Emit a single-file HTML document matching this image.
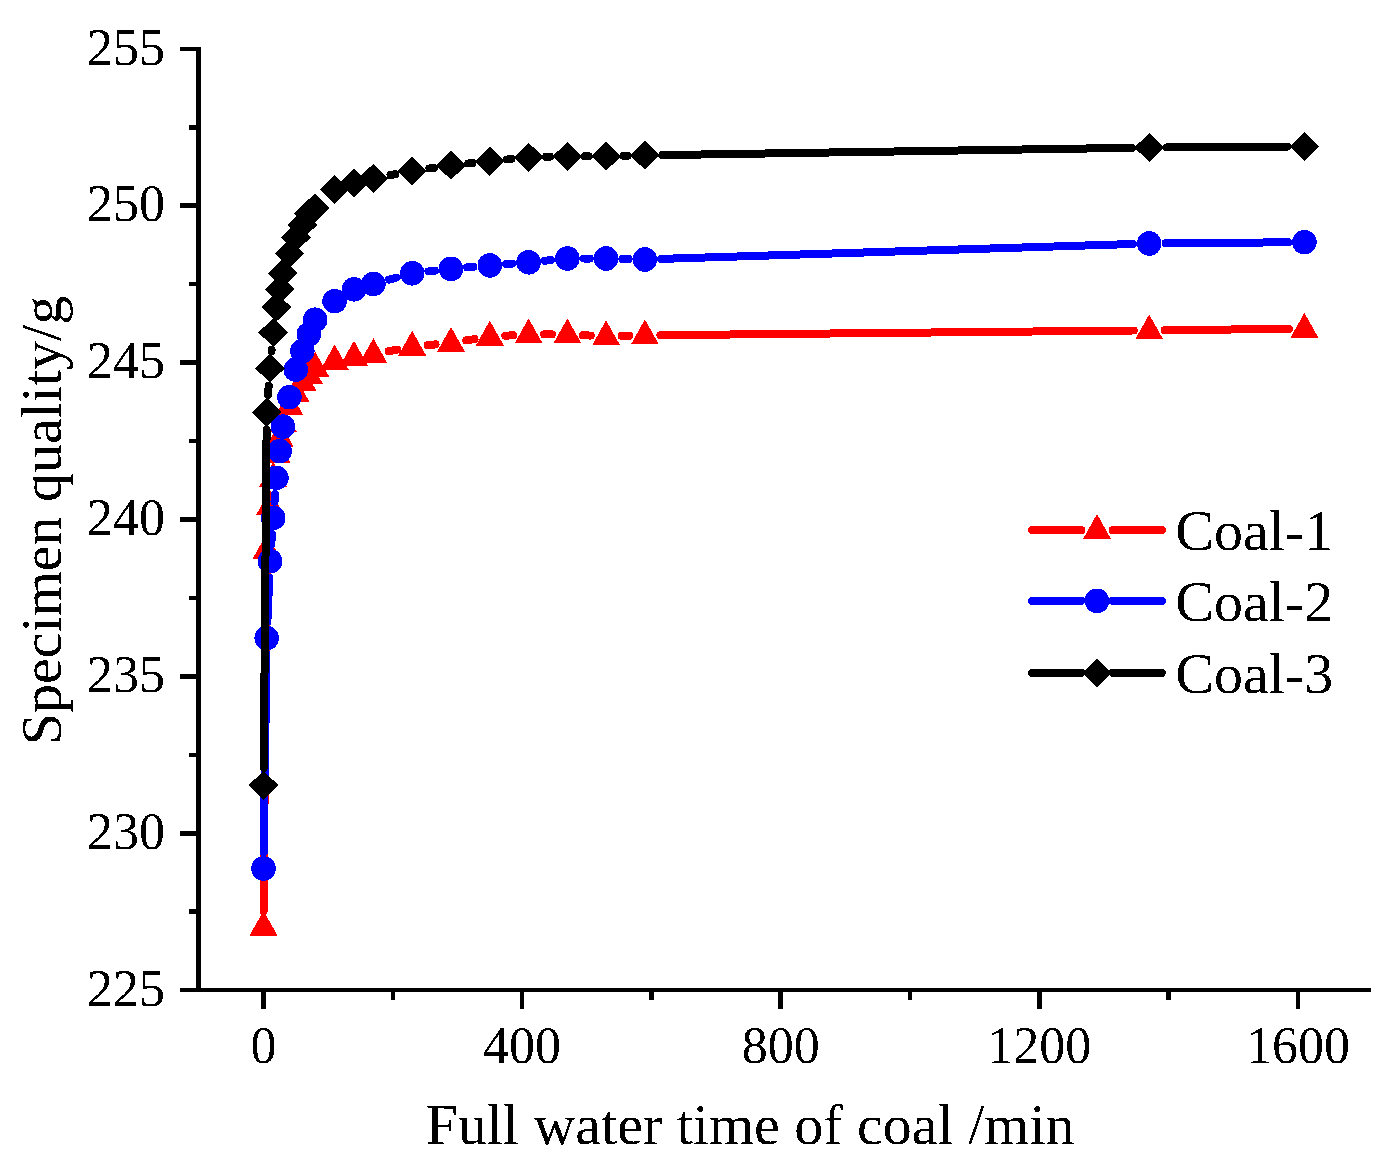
<!DOCTYPE html>
<html><head><meta charset="utf-8"><style>
html,body{margin:0;padding:0;background:#fff;}
svg{display:block;}
</style></head><body>
<svg width="1391" height="1165" viewBox="0 0 1391 1165" shape-rendering="crispEdges">
<defs><filter id="bin" x="0" y="0" width="1391" height="1165" filterUnits="userSpaceOnUse"><feComponentTransfer><feFuncA type="discrete" tableValues="0 1"/></feComponentTransfer></filter></defs>
<g fill="#000">
<rect x="196" y="46.6" width="5" height="945.4"/>
<rect x="180" y="988" width="1191" height="4"/>
<rect x="180" y="987.6" width="18" height="4.8"/>
<rect x="180" y="830.8" width="18" height="4.8"/>
<rect x="180" y="673.9" width="18" height="4.8"/>
<rect x="180" y="517.1" width="18" height="4.8"/>
<rect x="180" y="360.3" width="18" height="4.8"/>
<rect x="180" y="203.4" width="18" height="4.8"/>
<rect x="180" y="46.6" width="18" height="4.8"/>
<rect x="188.8" y="909.4" width="9" height="4.4"/>
<rect x="188.8" y="752.5" width="9" height="4.4"/>
<rect x="188.8" y="595.7" width="9" height="4.4"/>
<rect x="188.8" y="438.9" width="9" height="4.4"/>
<rect x="188.8" y="282.0" width="9" height="4.4"/>
<rect x="188.8" y="125.2" width="9" height="4.4"/>
<rect x="261.2" y="990" width="4.6" height="19"/>
<rect x="519.8" y="990" width="4.6" height="19"/>
<rect x="778.4" y="990" width="4.6" height="19"/>
<rect x="1037.0" y="990" width="4.6" height="19"/>
<rect x="1295.6" y="990" width="4.6" height="19"/>
<rect x="390.5" y="990" width="4.6" height="10"/>
<rect x="649.1" y="990" width="4.6" height="10"/>
<rect x="907.7" y="990" width="4.6" height="10"/>
<rect x="1166.3" y="990" width="4.6" height="10"/>
</g>
<g filter="url(#bin)"><g font-family="Liberation Serif, serif" font-size="52" fill="#000">
<text x="165" y="1005.5" text-anchor="end">225</text>
<text x="165" y="848.7" text-anchor="end">230</text>
<text x="165" y="691.8" text-anchor="end">235</text>
<text x="165" y="535.0" text-anchor="end">240</text>
<text x="165" y="378.2" text-anchor="end">245</text>
<text x="165" y="221.3" text-anchor="end">250</text>
<text x="165" y="64.5" text-anchor="end">255</text>
<text x="263.5" y="1063" text-anchor="middle">0</text>
<text x="522.1" y="1063" text-anchor="middle">400</text>
<text x="780.7" y="1063" text-anchor="middle">800</text>
<text x="1039.3" y="1063" text-anchor="middle">1200</text>
<text x="1297.9" y="1063" text-anchor="middle">1600</text>
</g>
<text x="750" y="1144" font-family="Liberation Serif, serif" font-size="58" text-anchor="middle">Full water time of coal /min</text>
<text transform="translate(60.8,520.5) rotate(-90)" font-family="Liberation Serif, serif" font-size="58" text-anchor="middle">Specimen quality/g</text></g>
<path d="M263.6,911.1L266.6,565.1M267.9,534.1L268.8,521.5M388.6,351.2L397.0,349.6M427.6,345.2L435.6,344.4M466.3,340.4L474.5,339.1M505.3,335.7L513.1,335.3M544.1,334.4L551.9,334.4M582.8,335.2L590.7,335.6M621.6,335.9L629.4,335.7M660.4,335.2L1133.7,330.5M1164.7,330.2L1288.9,328.9" fill="none" stroke="#ff0000" stroke-width="8.0" stroke-linecap="round"/><path d="M249.5,935.6L263.5,910.6L277.5,935.6Z" fill="#ff0000"/><path d="M252.7,558.6L266.7,533.6L280.7,558.6Z" fill="#ff0000"/><path d="M256.0,515.0L270.0,490.0L284.0,515.0Z" fill="#ff0000"/><path d="M259.2,486.8L273.2,461.8L287.2,486.8Z" fill="#ff0000"/><path d="M262.4,462.9L276.4,437.9L290.4,462.9Z" fill="#ff0000"/><path d="M265.7,446.9L279.7,421.9L293.7,446.9Z" fill="#ff0000"/><path d="M268.9,432.2L282.9,407.2L296.9,432.2Z" fill="#ff0000"/><path d="M275.4,415.3L289.4,390.3L303.4,415.3Z" fill="#ff0000"/><path d="M281.8,402.4L295.8,377.4L309.8,402.4Z" fill="#ff0000"/><path d="M288.3,390.5L302.3,365.5L316.3,390.5Z" fill="#ff0000"/><path d="M294.8,383.6L308.8,358.6L322.8,383.6Z" fill="#ff0000"/><path d="M301.2,376.7L315.2,351.7L329.2,376.7Z" fill="#ff0000"/><path d="M320.6,369.5L334.6,344.5L348.6,369.5Z" fill="#ff0000"/><path d="M340.0,365.7L354.0,340.7L368.0,365.7Z" fill="#ff0000"/><path d="M359.4,363.2L373.4,338.2L387.4,363.2Z" fill="#ff0000"/><path d="M398.2,355.7L412.2,330.7L426.2,355.7Z" fill="#ff0000"/><path d="M437.0,351.9L451.0,326.9L465.0,351.9Z" fill="#ff0000"/><path d="M475.8,345.6L489.8,320.6L503.8,345.6Z" fill="#ff0000"/><path d="M514.6,343.4L528.6,318.4L542.6,343.4Z" fill="#ff0000"/><path d="M553.4,343.4L567.4,318.4L581.4,343.4Z" fill="#ff0000"/><path d="M592.1,345.3L606.1,320.3L620.1,345.3Z" fill="#ff0000"/><path d="M630.9,344.4L644.9,319.4L658.9,344.4Z" fill="#ff0000"/><path d="M1135.2,339.4L1149.2,314.4L1163.2,339.4Z" fill="#ff0000"/><path d="M1290.4,337.8L1304.4,312.8L1318.4,337.8Z" fill="#ff0000"/>
<path d="M263.7,852.3L266.5,654.4M267.4,621.8L269.3,577.5M271.2,545.0L272.0,534.2M274.5,501.7L275.1,494.0M389.1,279.6L396.5,277.6M428.4,271.4L434.8,270.7M467.2,267.4L473.5,266.9M506.0,264.1L512.3,263.6M544.8,260.7L551.1,260.1M583.7,258.5L589.8,258.5M622.4,258.9L628.6,259.1M661.2,258.9L1132.9,244.0M1165.5,243.3L1288.1,242.3" fill="none" stroke="#0000ff" stroke-width="8.0" stroke-linecap="round"/><circle cx="263.5" cy="868.6" r="12.3" fill="#0000ff"/><circle cx="266.7" cy="638.1" r="12.3" fill="#0000ff"/><circle cx="270.0" cy="561.2" r="12.3" fill="#0000ff"/><circle cx="273.2" cy="517.9" r="12.3" fill="#0000ff"/><circle cx="276.4" cy="477.8" r="12.3" fill="#0000ff"/><circle cx="279.7" cy="451.1" r="12.3" fill="#0000ff"/><circle cx="282.9" cy="426.6" r="12.3" fill="#0000ff"/><circle cx="289.4" cy="397.2" r="12.3" fill="#0000ff"/><circle cx="295.8" cy="369.6" r="12.3" fill="#0000ff"/><circle cx="302.3" cy="351.1" r="12.3" fill="#0000ff"/><circle cx="308.8" cy="334.4" r="12.3" fill="#0000ff"/><circle cx="315.2" cy="319.7" r="12.3" fill="#0000ff"/><circle cx="334.6" cy="301.2" r="12.3" fill="#0000ff"/><circle cx="354.0" cy="289.3" r="12.3" fill="#0000ff"/><circle cx="373.4" cy="283.9" r="12.3" fill="#0000ff"/><circle cx="412.2" cy="273.3" r="12.3" fill="#0000ff"/><circle cx="451.0" cy="268.9" r="12.3" fill="#0000ff"/><circle cx="489.8" cy="265.4" r="12.3" fill="#0000ff"/><circle cx="528.6" cy="262.3" r="12.3" fill="#0000ff"/><circle cx="567.4" cy="258.5" r="12.3" fill="#0000ff"/><circle cx="606.1" cy="258.5" r="12.3" fill="#0000ff"/><circle cx="644.9" cy="259.5" r="12.3" fill="#0000ff"/><circle cx="1149.2" cy="243.5" r="12.3" fill="#0000ff"/><circle cx="1304.4" cy="242.2" r="12.3" fill="#0000ff"/>
<path d="M263.7,767.8L266.6,429.6M268.0,394.9L268.7,385.7M271.5,351.0L271.6,349.9M390.5,175.0L395.1,174.2M429.4,168.5L433.8,167.9M468.3,163.5L472.5,163.1M507.1,159.5L511.3,159.0M546.0,156.8L550.0,156.7M584.8,156.3L588.7,156.3M623.5,155.8L627.5,155.7M662.3,155.1L1131.8,147.8M1166.6,147.4L1287.0,146.6" fill="none" stroke="#000000" stroke-width="8.0" stroke-linecap="round"/><path d="M248.7,785.2L263.5,770.7L278.3,785.2L263.5,799.7Z" fill="#000000"/><path d="M251.9,412.2L266.7,397.7L281.5,412.2L266.7,426.7Z" fill="#000000"/><path d="M255.2,368.3L270.0,353.8L284.8,368.3L270.0,382.8Z" fill="#000000"/><path d="M258.4,332.5L273.2,318.0L288.0,332.5L273.2,347.0Z" fill="#000000"/><path d="M261.6,307.1L276.4,292.6L291.2,307.1L276.4,321.6Z" fill="#000000"/><path d="M264.9,289.3L279.7,274.8L294.5,289.3L279.7,303.8Z" fill="#000000"/><path d="M268.1,273.3L282.9,258.8L297.7,273.3L282.9,287.8Z" fill="#000000"/><path d="M274.6,253.5L289.4,239.0L304.2,253.5L289.4,268.0Z" fill="#000000"/><path d="M281.0,237.5L295.8,223.0L310.6,237.5L295.8,252.0Z" fill="#000000"/><path d="M287.5,225.0L302.3,210.5L317.1,225.0L302.3,239.5Z" fill="#000000"/><path d="M294.0,213.4L308.8,198.9L323.6,213.4L308.8,227.9Z" fill="#000000"/><path d="M300.4,208.0L315.2,193.5L330.0,208.0L315.2,222.5Z" fill="#000000"/><path d="M319.8,189.5L334.6,175.0L349.4,189.5L334.6,204.0Z" fill="#000000"/><path d="M339.2,183.2L354.0,168.7L368.8,183.2L354.0,197.7Z" fill="#000000"/><path d="M358.6,178.2L373.4,163.7L388.2,178.2L373.4,192.7Z" fill="#000000"/><path d="M397.4,171.0L412.2,156.5L427.0,171.0L412.2,185.5Z" fill="#000000"/><path d="M436.2,165.4L451.0,150.9L465.8,165.4L451.0,179.9Z" fill="#000000"/><path d="M475.0,161.3L489.8,146.8L504.6,161.3L489.8,175.8Z" fill="#000000"/><path d="M513.8,157.2L528.6,142.7L543.4,157.2L528.6,171.7Z" fill="#000000"/><path d="M552.6,156.3L567.4,141.8L582.2,156.3L567.4,170.8Z" fill="#000000"/><path d="M591.3,156.3L606.1,141.8L620.9,156.3L606.1,170.8Z" fill="#000000"/><path d="M630.1,155.3L644.9,140.8L659.7,155.3L644.9,169.8Z" fill="#000000"/><path d="M1134.4,147.5L1149.2,133.0L1164.0,147.5L1149.2,162.0Z" fill="#000000"/><path d="M1289.6,146.5L1304.4,132.0L1319.2,146.5L1304.4,161.0Z" fill="#000000"/>
<path d="M1032.3,530.05H1081.2M1112.8,530.05H1161.7" stroke="#ff0000" stroke-width="8.1" stroke-linecap="round"/>
<path d="M1083.0,539.0L1097.0,514.0L1111.0,539.0Z" fill="#ff0000"/>
<text x="1175.3" y="550.0" font-family="Liberation Serif, serif" font-size="58" filter="url(#bin)">Coal-1</text>
<path d="M1032.3,600.9H1081.2M1112.8,600.9H1161.7" stroke="#0000ff" stroke-width="8.1" stroke-linecap="round"/>
<circle cx="1097.0" cy="600.9" r="12.3" fill="#0000ff"/>
<text x="1175.3" y="620.9" font-family="Liberation Serif, serif" font-size="58" filter="url(#bin)">Coal-2</text>
<path d="M1032.3,672.8H1081.2M1112.8,672.8H1161.7" stroke="#000000" stroke-width="8.1" stroke-linecap="round"/>
<path d="M1082.2,672.8L1097.0,658.3L1111.8,672.8L1097.0,687.3Z" fill="#000000"/>
<text x="1175.3" y="692.8" font-family="Liberation Serif, serif" font-size="58" filter="url(#bin)">Coal-3</text>
</svg>
</body></html>
